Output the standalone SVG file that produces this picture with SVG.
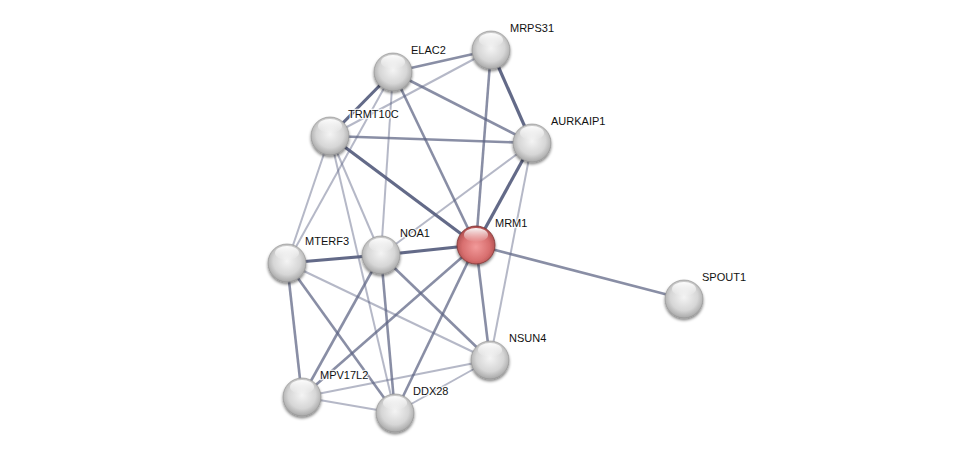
<svg xmlns="http://www.w3.org/2000/svg" width="975" height="458" viewBox="0 0 975 458">
<defs>
<radialGradient id="gw" cx="0.5" cy="0.45" r="0.6">
<stop offset="0" stop-color="#f4f4f4"/>
<stop offset="0.6" stop-color="#d6d6d6"/>
<stop offset="1" stop-color="#9c9c9c"/>
</radialGradient>
<radialGradient id="gr" cx="0.5" cy="0.55" r="0.6">
<stop offset="0" stop-color="#f29a9a"/>
<stop offset="0.6" stop-color="#d86f6f"/>
<stop offset="1" stop-color="#a04444"/>
</radialGradient>
<linearGradient id="hl" x1="0" y1="0" x2="0" y2="1">
<stop offset="0" stop-color="#fff" stop-opacity="0.95"/>
<stop offset="1" stop-color="#fff" stop-opacity="0"/>
</linearGradient>
<filter id="sh" x="-30%" y="-30%" width="160%" height="170%">
<feGaussianBlur in="SourceAlpha" stdDeviation="1.5"/>
<feOffset dx="0" dy="2" result="b"/>
<feComponentTransfer><feFuncA type="linear" slope="0.5"/></feComponentTransfer>
<feMerge><feMergeNode/><feMergeNode in="SourceGraphic"/></feMerge>
</filter>
</defs>
<style>
.e{stroke:#5b6282;fill:none;stroke-linecap:butt}
.t{stroke-width:3.2;stroke-opacity:0.95}
.m{stroke-width:2.6;stroke-opacity:0.72}
.l{stroke-width:2;stroke-opacity:0.45}
.n{fill:url(#gw);stroke:#8f8f8f;stroke-width:0.6;filter:url(#sh)}
.r{fill:url(#gr);stroke:#7e3434;stroke-width:0.8;filter:url(#sh)}
.h{fill:url(#hl)}
.lb{font-family:"Liberation Sans",Arial,sans-serif;font-size:11px;fill:#111;stroke:#fff;stroke-width:2.5;stroke-opacity:0.8;paint-order:stroke;stroke-linejoin:round}
</style>
<rect width="975" height="458" fill="#fff"/>
<g id="edges">
<line class="e m" x1="476" y1="245" x2="393" y2="72"/>
<line class="e m" x1="476" y1="245" x2="491" y2="50"/>
<line class="e t" x1="476" y1="245" x2="532" y2="143"/>
<line class="e t" x1="476" y1="245" x2="330" y2="136"/>
<line class="e t" x1="476" y1="245" x2="381" y2="255"/>
<line class="e m" x1="476" y1="245" x2="302" y2="397"/>
<line class="e m" x1="476" y1="245" x2="395" y2="413"/>
<line class="e m" x1="476" y1="245" x2="490" y2="360"/>
<line class="e m" x1="476" y1="245" x2="684" y2="299"/>
<line class="e m" x1="491" y1="50" x2="393" y2="72"/>
<line class="e l" x1="491" y1="50" x2="330" y2="136"/>
<line class="e t" x1="491" y1="50" x2="532" y2="143"/>
<line class="e t" x1="393" y1="72" x2="330" y2="136"/>
<line class="e m" x1="393" y1="72" x2="532" y2="143"/>
<line class="e l" x1="393" y1="72" x2="381" y2="255"/>
<line class="e l" x1="393" y1="72" x2="287" y2="263"/>
<line class="e m" x1="330" y1="136" x2="532" y2="143"/>
<line class="e l" x1="330" y1="136" x2="287" y2="263"/>
<line class="e l" x1="330" y1="136" x2="381" y2="255"/>
<line class="e l" x1="330" y1="136" x2="395" y2="413"/>
<line class="e l" x1="532" y1="143" x2="381" y2="255"/>
<line class="e l" x1="532" y1="143" x2="490" y2="360"/>
<line class="e t" x1="381" y1="255" x2="287" y2="263"/>
<line class="e m" x1="381" y1="255" x2="302" y2="397"/>
<line class="e m" x1="381" y1="255" x2="395" y2="413"/>
<line class="e m" x1="381" y1="255" x2="490" y2="360"/>
<line class="e m" x1="287" y1="263" x2="302" y2="397"/>
<line class="e m" x1="287" y1="263" x2="395" y2="413"/>
<line class="e l" x1="287" y1="263" x2="490" y2="360"/>
<line class="e l" x1="302" y1="397" x2="490" y2="360"/>
<line class="e l" x1="302" y1="397" x2="395" y2="413"/>
<line class="e l" x1="395" y1="413" x2="490" y2="360"/>
</g>
<g id="MRPS31"><circle class="n" cx="491" cy="50" r="19"/><ellipse class="h" cx="491" cy="40" rx="12" ry="7"/><text class="lb" x="510" y="32">MRPS31</text></g>
<g id="ELAC2"><circle class="n" cx="393" cy="72" r="19"/><ellipse class="h" cx="393" cy="62" rx="12" ry="7"/><text class="lb" x="411" y="54">ELAC2</text></g>
<g id="TRMT10C"><circle class="n" cx="330" cy="136" r="19"/><ellipse class="h" cx="330" cy="126" rx="12" ry="7"/><text class="lb" x="348" y="118">TRMT10C</text></g>
<g id="AURKAIP1"><circle class="n" cx="532" cy="143" r="19"/><ellipse class="h" cx="532" cy="133" rx="12" ry="7"/><text class="lb" x="551" y="125">AURKAIP1</text></g>
<g id="MRM1"><circle class="r" cx="476" cy="245" r="19"/><ellipse class="h" cx="476" cy="235" rx="12" ry="7"/><text class="lb" x="495" y="227">MRM1</text></g>
<g id="NOA1"><circle class="n" cx="381" cy="255" r="19"/><ellipse class="h" cx="381" cy="245" rx="12" ry="7"/><text class="lb" x="400" y="237">NOA1</text></g>
<g id="MTERF3"><circle class="n" cx="287" cy="263" r="19"/><ellipse class="h" cx="287" cy="253" rx="12" ry="7"/><text class="lb" x="305" y="245">MTERF3</text></g>
<g id="SPOUT1"><circle class="n" cx="684" cy="299" r="19"/><ellipse class="h" cx="684" cy="289" rx="12" ry="7"/><text class="lb" x="702" y="281">SPOUT1</text></g>
<g id="NSUN4"><circle class="n" cx="490" cy="360" r="19"/><ellipse class="h" cx="490" cy="350" rx="12" ry="7"/><text class="lb" x="509" y="342">NSUN4</text></g>
<g id="MPV17L2"><circle class="n" cx="302" cy="397" r="19"/><ellipse class="h" cx="302" cy="387" rx="12" ry="7"/><text class="lb" x="320" y="379">MPV17L2</text></g>
<g id="DDX28"><circle class="n" cx="395" cy="413" r="19"/><ellipse class="h" cx="395" cy="403" rx="12" ry="7"/><text class="lb" x="413" y="395">DDX28</text></g>
</svg>
